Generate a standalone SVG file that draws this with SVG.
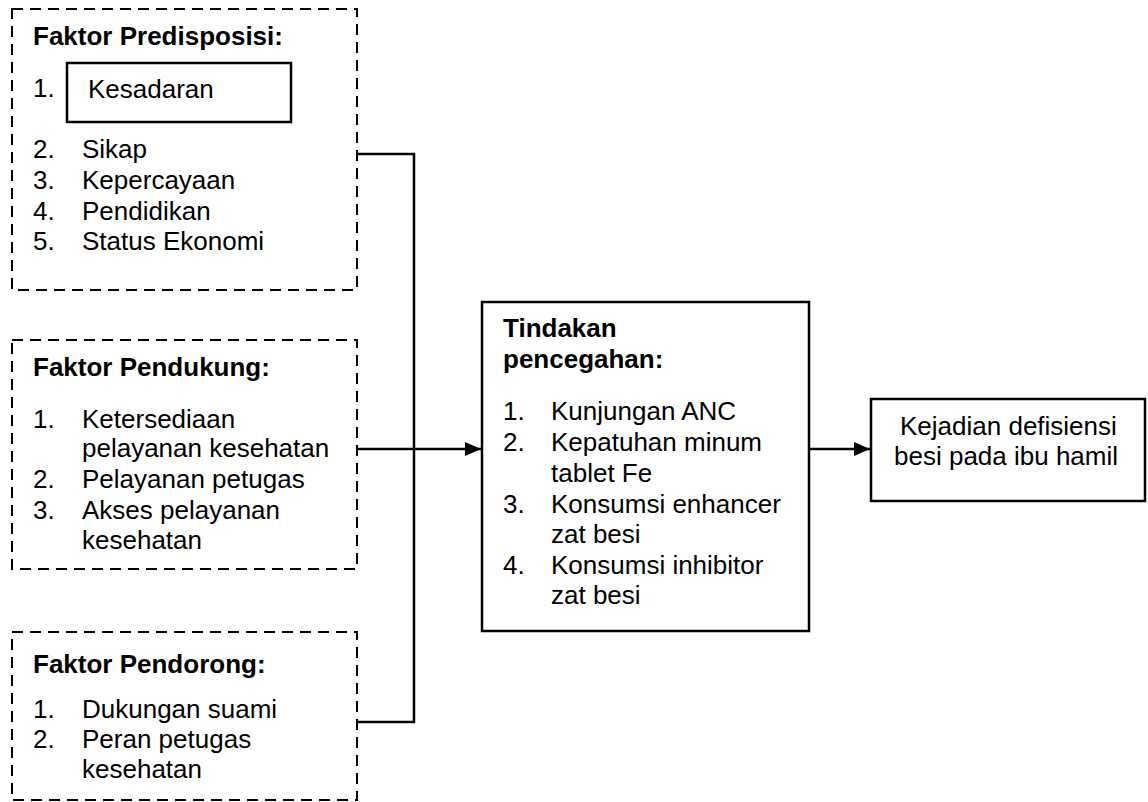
<svg xmlns="http://www.w3.org/2000/svg" width="1148" height="802" viewBox="0 0 1148 802">
<style>
text{font-family:"Liberation Sans",Arial,sans-serif;font-size:26px;fill:#000}
.b{font-weight:bold}
.dash{fill:none;stroke:#000;stroke-width:2;stroke-dasharray:11 7}
.box{fill:#fff;stroke:#000;stroke-width:2.5}
.ln{fill:none;stroke:#000;stroke-width:2.5}
</style>
<defs>
<marker id="ah" markerWidth="16" markerHeight="14" refX="16" refY="7" orient="auto" markerUnits="userSpaceOnUse">
<path d="M0,0 L16,7 L0,14 Z" fill="#000"/>
</marker>
</defs>
<g id="connectors">
<polyline class="ln" points="358,154 414,154 414,722 358,722"/>
<line class="ln" x1="358" y1="449" x2="481" y2="449" marker-end="url(#ah)"/>
<line class="ln" x1="809" y1="449" x2="870" y2="449" marker-end="url(#ah)"/>
</g>
<g id="predisposisi">
<rect class="dash" x="12" y="9" width="345" height="281"/>
<text class="b" x="33" y="45">Faktor Predisposisi:</text>
<text x="33" y="97">1.</text>
<rect class="box" x="67" y="63" width="224" height="59"/>
<text x="88" y="98">Kesadaran</text>
<text x="33" y="158">2.</text><text x="82" y="158">Sikap</text>
<text x="33" y="189">3.</text><text x="82" y="189">Kepercayaan</text>
<text x="33" y="220">4.</text><text x="82" y="220">Pendidikan</text>
<text x="33" y="250">5.</text><text x="82" y="250">Status Ekonomi</text>
</g>
<g id="pendukung">
<rect class="dash" x="12" y="340" width="345" height="229"/>
<text class="b" x="33" y="376">Faktor Pendukung:</text>
<text x="33" y="428">1.</text><text x="82" y="428">Ketersediaan</text>
<text x="82" y="457">pelayanan kesehatan</text>
<text x="33" y="488">2.</text><text x="82" y="488">Pelayanan petugas</text>
<text x="33" y="519">3.</text><text x="82" y="519">Akses pelayanan</text>
<text x="82" y="549">kesehatan</text>
</g>
<g id="pendorong">
<rect class="dash" x="12" y="632" width="345" height="168"/>
<text class="b" x="33" y="673">Faktor Pendorong:</text>
<text x="33" y="718">1.</text><text x="82" y="718">Dukungan suami</text>
<text x="33" y="748">2.</text><text x="82" y="748">Peran petugas</text>
<text x="82" y="778">kesehatan</text>
</g>
<g id="tindakan">
<rect class="box" x="482" y="302" width="327" height="329"/>
<text class="b" x="503" y="337">Tindakan</text>
<text class="b" x="503" y="368">pencegahan:</text>
<text x="503" y="420">1.</text><text x="551" y="420">Kunjungan ANC</text>
<text x="503" y="451">2.</text><text x="551" y="451">Kepatuhan minum</text>
<text x="551" y="482">tablet Fe</text>
<text x="503" y="513">3.</text><text x="551" y="513">Konsumsi enhancer</text>
<text x="551" y="543">zat besi</text>
<text x="503" y="574">4.</text><text x="551" y="574">Konsumsi inhibitor</text>
<text x="551" y="604">zat besi</text>
</g>
<g id="kejadian">
<rect class="box" x="871" y="399" width="274" height="102"/>
<text x="900" y="435">Kejadian defisiensi</text>
<text x="894" y="465">besi pada ibu hamil</text>
</g>
</svg>
